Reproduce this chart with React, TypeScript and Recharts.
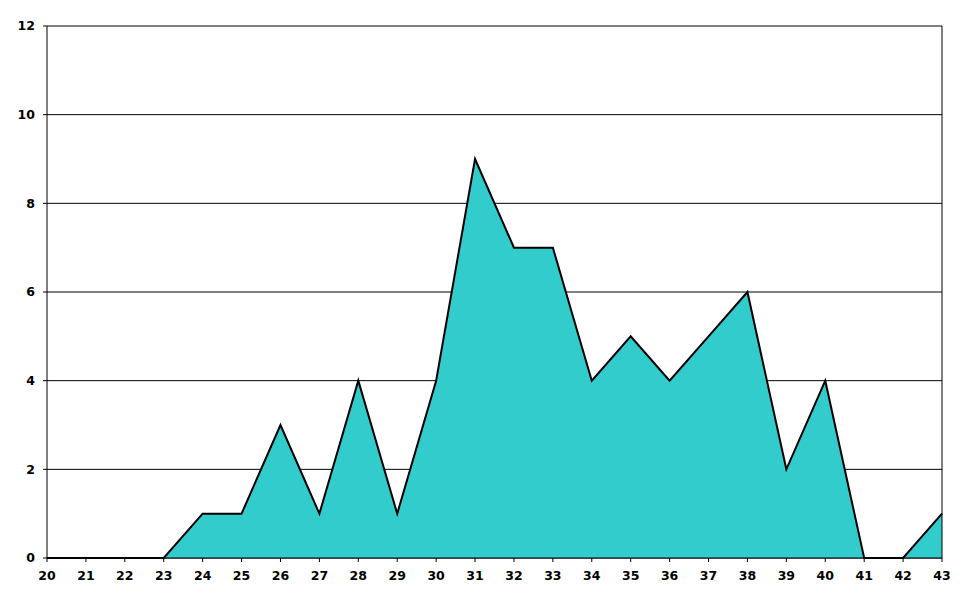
import { Area, AreaChart, CartesianGrid, ReferenceLine, XAxis, YAxis } from "recharts";

const categories = [20, 21, 22, 23, 24, 25, 26, 27, 28, 29, 30, 31, 32, 33, 34, 35, 36, 37, 38, 39, 40, 41, 42, 43];
const counts = [0, 0, 0, 0, 1, 1, 3, 1, 4, 1, 4, 9, 7, 7, 4, 5, 4, 5, 6, 2, 4, 0, 0, 1];
const yTicks = [0, 2, 4, 6, 8, 10, 12];

const data = categories.map((c, i) => ({ x: String(c), v: counts[i] }));

const tickStyle = { fill: "#000", fontSize: 12.5, fontWeight: "bold", fontFamily: "DejaVu Sans, Verdana, sans-serif" };

export default function App() {
  return (
    <div style={{ position: "absolute", left: 0, top: 0, background: "#fff" }}>
      <AreaChart width={970} height={604} data={data} margin={{ top: 26, right: 28, bottom: 0, left: 0 }}>
        <CartesianGrid vertical={false} stroke="#000" strokeWidth={1} />
        <XAxis
          dataKey="x"
          height={46}
          stroke="#000"
          tickSize={4}
          tickMargin={9}
          tick={tickStyle}
          interval={0}
        />
        <YAxis
          width={47}
          domain={[0, 12]}
          ticks={yTicks}
          stroke="#000"
          tickSize={4}
          tickMargin={8}
          tick={tickStyle}
          interval={0}
        />
        <ReferenceLine x="43" stroke="#000" strokeWidth={1} />
        <Area
          type="linear"
          dataKey="v"
          stroke="#000"
          strokeWidth={2}
          fill="#33CCCC"
          fillOpacity={1}
          isAnimationActive={false}
        />
      </AreaChart>
    </div>
  );
}
